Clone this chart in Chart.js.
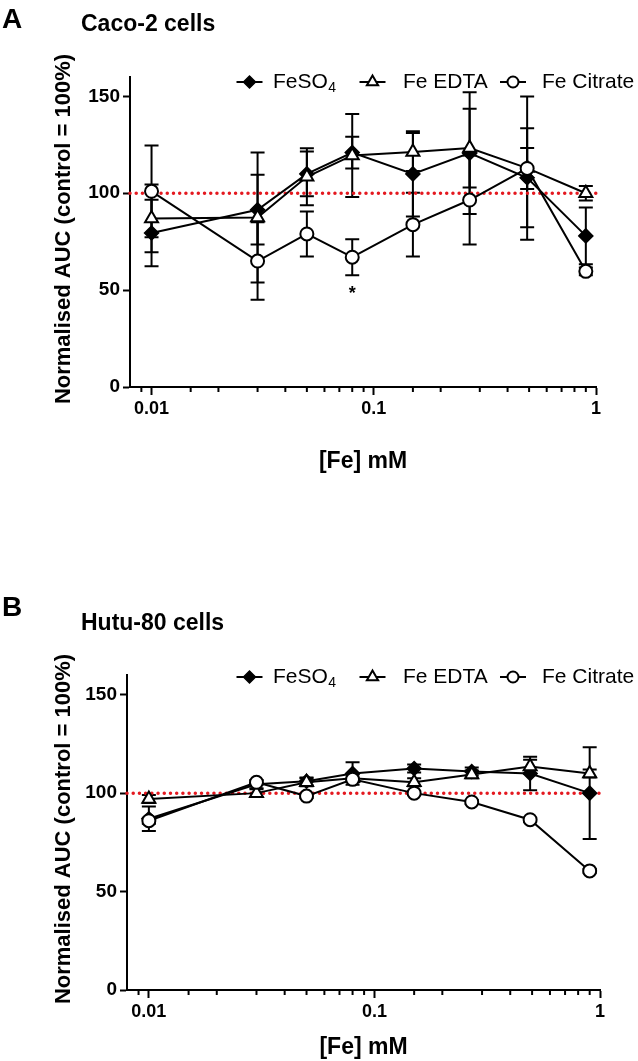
<!DOCTYPE html>
<html><head><meta charset="utf-8">
<script src="https://cdn.jsdelivr.net/npm/chart.js@4.4.1/dist/chart.umd.min.js"></script>
<style>
html,body{margin:0;padding:0;background:#fff;}
#wrap{position:relative;width:638px;height:1061px;overflow:hidden;background:#fff;}
canvas{position:absolute;left:0;}
</style></head><body>
<div id="wrap">
<canvas id="cA" width="638" height="530" style="top:0px"></canvas>
<canvas id="cB" width="638" height="531" style="top:530px"></canvas>
</div>
<script>
// ---------- DATA ----------
const concentrations = [0.01, 0.03, 0.05, 0.08, 0.15, 0.27, 0.49, 0.9];   // [Fe] mM
const seriesNames = ['FeSO4', 'Fe EDTA', 'Fe Citrate'];
const xTickLabels = ['0.01', '0.1', '1'];
const yTickValues = [0, 50, 100, 150];
const controlLevel = 100;

// Panel A: Caco-2 cells
const cacoFeSO4      = [79.5, 91.5, 110, 121, 110, 120.7, 108, 78];
const cacoFeSO4Err   = [17.2, 18, 11.5, 8.2, 22, 31.4, 25.6, 14.6];
const cacoEDTA       = [87, 87.5, 108.5, 119.5, 121.3, 123.3, 113, 100];
const cacoEDTAErr    = [17.5, 33.5, 14.7, 21.4, 9.8, 20.3, 37, 3.7];
const cacoCitrate    = [101, 65, 79, 67, 83.8, 96.5, 112.8, 59.7];
const cacoCitrateErr = [23.7, 20, 11.6, 9.3, 16.5, 23, 10.6, 2];
const cacoSignificant = [0.08];   // "*" position (x)

// Panel B: Hutu-80 cells
const hutuFeSO4      = [87, 104.5, 106, 110, 112.5, 111, 110, 100];
const hutuFeSO4Err   = [6.2, 2, 2, 5.7, 2, 2, 8.5, 23.3];
const hutuEDTA       = [97, 100, 105.5, 107.5, 105.5, 109.5, 113.5, 110];
const hutuEDTAErr    = [2, 2, 2, 2, 2, 2, 3.5, 2];
const hutuCitrate    = [86, 105.5, 98.5, 107, 100, 95.5, 86.5, 60.5];
const hutuCitrateErr = [1.5, 1, 1, 1, 1, 1, 1, 1];

// ---------- STYLE / LAYOUT ----------
const FONT = "'Liberation Sans', Arial, Helvetica, sans-serif";
const markerStyles = [
  {style:'rectRot',  radius:7,   legendRadius:6,   fill:'#000', border:1.5},
  {style:'triangle', radius:7.5, legendRadius:6.5, fill:'#fff', border:2},
  {style:'circle',   radius:6.5, legendRadius:5.5, fill:'#fff', border:2}
];

function pts(vals){ return concentrations.map((c,i)=>({x:c, y:vals[i]})); }
function isDecade(v){ const l = Math.log10(v); return Math.abs(l - Math.round(l)) < 1e-6; }

function drawMarker(ctx, m, x, y, r){
  ctx.beginPath();
  if (m.style === 'circle') {
    ctx.arc(x, y, r, 0, Math.PI*2);
  } else if (m.style === 'rectRot') {
    ctx.moveTo(x - r, y); ctx.lineTo(x, y - r); ctx.lineTo(x + r, y); ctx.lineTo(x, y + r);
  } else {
    let rad = 0;
    ctx.moveTo(x + Math.sin(rad)*r, y - Math.cos(rad)*r);
    rad += 2*Math.PI/3;
    ctx.lineTo(x + Math.sin(rad)*r, y - Math.cos(rad)*r);
    rad += 2*Math.PI/3;
    ctx.lineTo(x + Math.sin(rad)*r, y - Math.cos(rad)*r);
  }
  ctx.closePath();
  ctx.fillStyle = m.fill; ctx.fill();
  ctx.lineWidth = m.border; ctx.strokeStyle = '#000'; ctx.stroke();
}

const errorBarPlugin = {
  id: 'errorBars',
  beforeDatasetsDraw(chart){
    const {ctx, scales:{x, y}} = chart;
    ctx.save();
    ctx.strokeStyle = '#000'; ctx.lineWidth = 2; ctx.lineCap = 'butt';
    chart.data.datasets.forEach(ds => {
      if (!ds.errorValues) return;
      ds.data.forEach((p, i) => {
        const e = ds.errorValues[i];
        if (!e) return;
        const px = x.getPixelForValue(p.x);
        const yt = y.getPixelForValue(p.y + e), yb = y.getPixelForValue(p.y - e);
        ctx.beginPath();
        ctx.moveTo(px, yt); ctx.lineTo(px, yb);
        ctx.moveTo(px - 7, yt); ctx.lineTo(px + 7, yt);
        ctx.moveTo(px - 7, yb); ctx.lineTo(px + 7, yb);
        ctx.stroke();
      });
    });
    ctx.restore();
  }
};

const decorPlugin = {
  id: 'decor',
  afterDraw(chart, args, o){
    const {ctx, chartArea:ca, scales:{x, y}} = chart;
    ctx.save();
    ctx.fillStyle = '#000';
    ctx.textBaseline = 'middle';
    // panel letter
    ctx.textAlign = 'left';
    ctx.font = `bold 28px ${FONT}`;
    ctx.fillText(o.letter, 2, o.letterY);
    // panel title
    ctx.font = `bold 23px ${FONT}`;
    ctx.fillText(o.title, 81, o.titleY);
    // y axis title
    ctx.save();
    ctx.translate(64, o.yTitleY);
    ctx.rotate(-Math.PI/2);
    ctx.textAlign = 'center';
    ctx.font = `bold 22px ${FONT}`;
    ctx.fillText('Normalised AUC (control = 100%)', 0, 0);
    ctx.restore();
    // x axis title
    ctx.textAlign = 'center';
    ctx.font = `bold 23px ${FONT}`;
    ctx.fillText('[Fe] mM', (ca.left + ca.right)/2, o.xTitleY);
    // minor x ticks
    ctx.strokeStyle = '#000'; ctx.lineWidth = 2;
    x.ticks.forEach(t => {
      if (isDecade(t.value) || t.value <= x.min + 1e-9) return;
      const px = x.getPixelForValue(t.value);
      ctx.beginPath(); ctx.moveTo(px, ca.bottom); ctx.lineTo(px, ca.bottom + 5); ctx.stroke();
    });
    // legend
    const ly = o.legendY;
    const lx = [249.5, 372.5, 513];
    const tx = [273, 403, 542];
    for (let i = 0; i < 3; i++) {
      ctx.strokeStyle = '#000'; ctx.lineWidth = 2;
      ctx.beginPath(); ctx.moveTo(lx[i] - 13, ly); ctx.lineTo(lx[i] + 13, ly); ctx.stroke();
      drawMarker(ctx, markerStyles[i], lx[i], ly, markerStyles[i].legendRadius);
      ctx.fillStyle = '#000';
      ctx.textAlign = 'left';
      ctx.font = `21px ${FONT}`;
      if (i === 0) {
        const base = 'FeSO';
        ctx.fillText(base, tx[i], ly);
        const w = ctx.measureText(base).width;
        ctx.font = `14px ${FONT}`;
        ctx.fillText('4', tx[i] + w + 0.5, ly + 6);
      } else {
        ctx.fillText(seriesNames[i], tx[i], ly);
      }
    }
    // significance marks
    if (o.stars) {
      ctx.font = `bold 18px ${FONT}`;
      ctx.textAlign = 'center';
      o.stars.forEach(sx => {
        ctx.fillText('*', x.getPixelForValue(sx), y.getPixelForValue(50) + 4);
      });
    }
    ctx.restore();
  }
};

function makeChart(canvasId, geo, vals, errs, decor){
  const H = document.getElementById(canvasId).height;
  const datasets = [0,1,2].map(i => ({
    label: seriesNames[i],
    data: pts(vals[i]),
    errorValues: errs[i],
    borderColor: '#000',
    borderWidth: 2,
    pointStyle: markerStyles[i].style,
    pointRadius: markerStyles[i].radius,
    pointHoverRadius: markerStyles[i].radius,
    pointBackgroundColor: markerStyles[i].fill,
    pointBorderColor: '#000',
    pointBorderWidth: markerStyles[i].border,
    tension: 0,
    fill: false,
    clip: false,
    order: 2 - i
  }));
  datasets.push({
    label: 'control',
    data: [{x:0.008, y:controlLevel}, {x:1, y:controlLevel}],
    borderColor: '#e4181f',
    borderWidth: 3.5,
    borderDash: [0.01, 6.2],
    borderCapStyle: 'round',
    pointRadius: 0,
    fill: false,
    clip: false,
    order: 10
  });
  return new Chart(document.getElementById(canvasId), {
    type: 'line',
    data: { datasets },
    options: {
      responsive: false,
      animation: false,
      devicePixelRatio: 1,
      layout: { padding: { left: 0, top: geo.top, right: 638 - geo.right, bottom: 0 } },
      plugins: { legend: { display: false }, tooltip: { enabled: false }, decor: decor },
      events: [],
      scales: {
        x: {
          type: 'logarithmic', min: 0.008, max: 1,
          border: { display: true, color: '#000', width: 2 },
          grid: { display: true, drawOnChartArea: false, drawTicks: true, tickLength: 8, tickWidth: 2,
                  tickColor: c => (c.tick && isDecade(c.tick.value)) ? '#000' : 'rgba(0,0,0,0)' },
          ticks: { autoSkip: false, maxRotation: 0, minRotation: 0, padding: 3, color: '#000',
                   font: { family: FONT, size: 18, weight: 'bold' },
                   callback: v => { if (!isDecade(v)) return ''; const s = String(+v.toPrecision(3)); return xTickLabels.includes(s) ? s : ''; } },
          afterFit: s => { s.height = H - geo.bottom; }
        },
        y: {
          type: 'linear', min: 0, max: 160,
          border: { display: true, color: '#000', width: 2 },
          grid: { display: true, drawOnChartArea: false, drawTicks: true, tickLength: 7, tickWidth: 2, tickColor: '#000' },
          ticks: { stepSize: 50, includeBounds: false, padding: 3, color: '#000',
                   font: { family: FONT, size: 19, weight: 'bold' },
                   callback: v => yTickValues.includes(v) ? String(v) : '' },
          afterFit: s => { s.width = geo.left; }
        }
      }
    },
    plugins: [errorBarPlugin, decorPlugin]
  });
}

makeChart('cA', {top: 77, bottom: 387, left: 130, right: 596},
  [cacoFeSO4, cacoEDTA, cacoCitrate], [cacoFeSO4Err, cacoEDTAErr, cacoCitrateErr],
  {letter: 'A', letterY: 20, title: 'Caco-2 cells', titleY: 24.5, yTitleY: 229, xTitleY: 462, legendY: 82, stars: cacoSignificant});

makeChart('cB', {top: 145, bottom: 460, left: 127, right: 600},
  [hutuFeSO4, hutuEDTA, hutuCitrate], [hutuFeSO4Err, hutuEDTAErr, hutuCitrateErr],
  {letter: 'B', letterY: 78.5, title: 'Hutu-80 cells', titleY: 93.5, yTitleY: 299, xTitleY: 518, legendY: 147, stars: null});
</script>
</body></html>
